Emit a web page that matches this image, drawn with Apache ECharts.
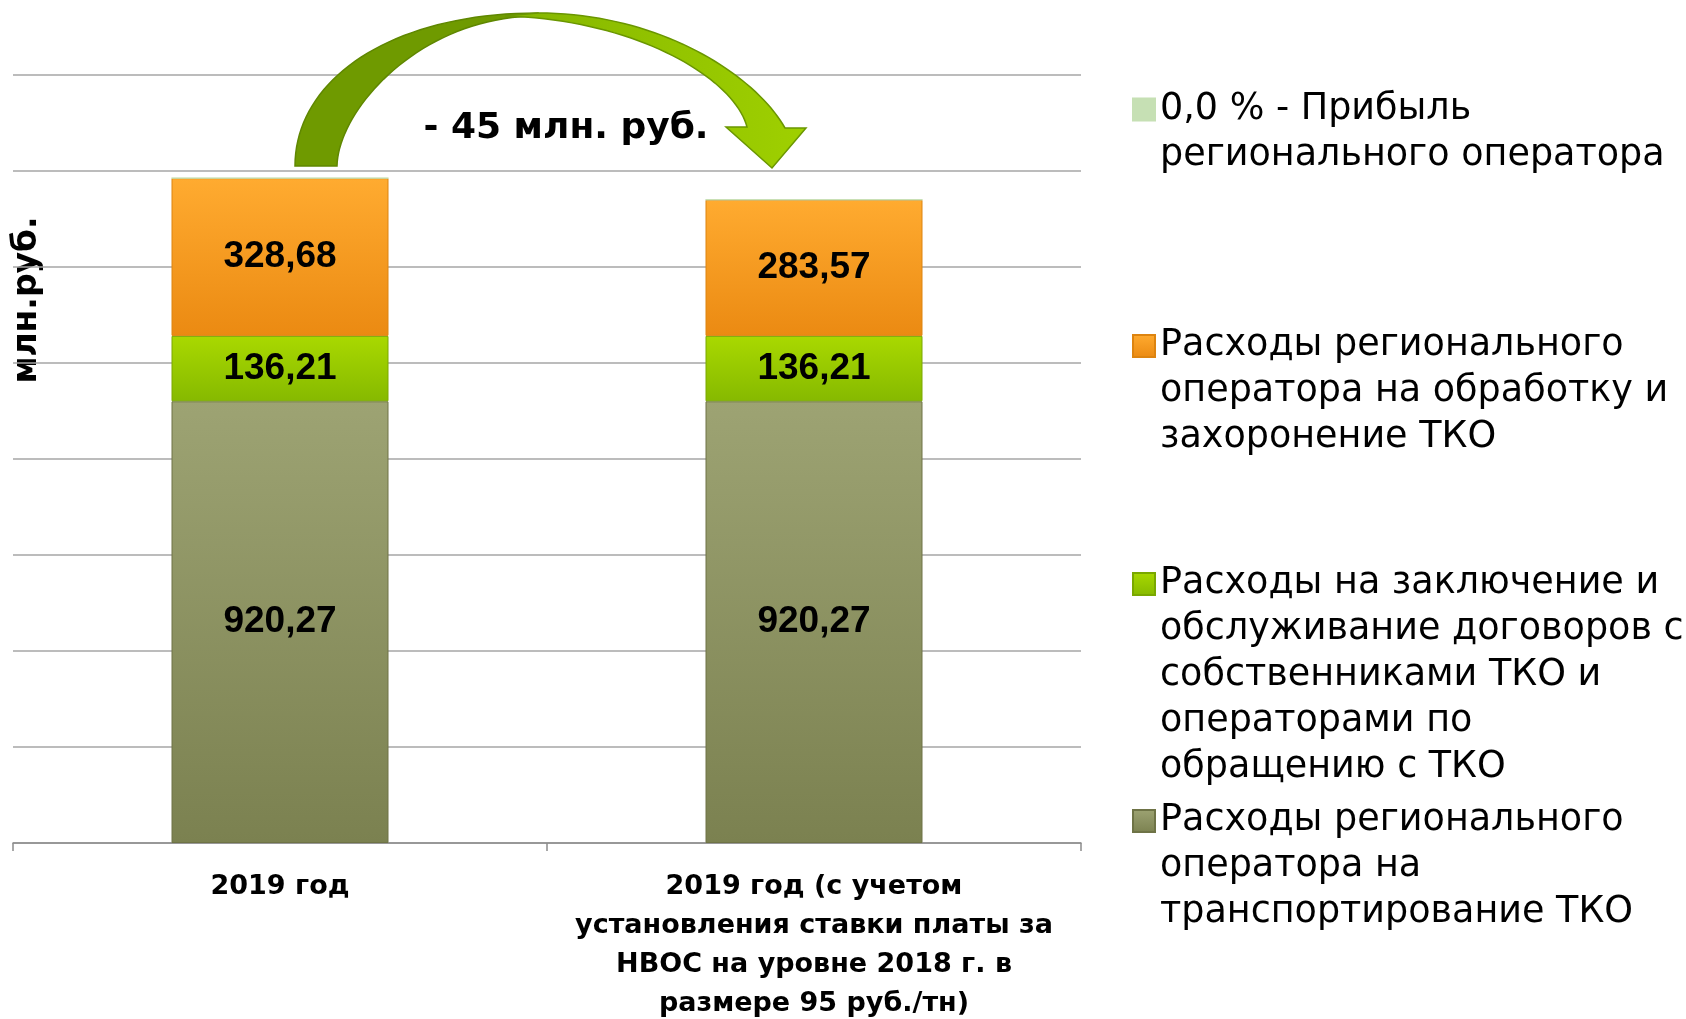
<!DOCTYPE html>
<html>
<head>
<meta charset="utf-8">
<title>Расходы регионального оператора</title>
<script src="https://cdn.jsdelivr.net/npm/echarts@6/dist/echarts.min.js"></script>
<style>
  html, body { margin: 0; padding: 0; background: #fff; }
  #chart { width: 1686px; height: 1019px; }
</style>
</head>
<body>
<div id="chart"></div>
<script>
// категории и значения (млн. руб.)
const categories = [
  '2019 год',
  '2019 год (с учетом\nустановления ставки платы за\nНВОС на уровне 2018 г. в\nразмере 95 руб./тн)'
];
const transportValues = [920.27, 920.27];
const contractValues = [136.21, 136.21];
const processingValues = [328.68, 283.57];
const profitValues = [0, 0];

const seriesNames = [
  'Расходы регионального оператора на транспортирование ТКО',
  'Расходы на заключение и обслуживание договоров с собственниками ТКО и операторами по обращению с ТКО',
  'Расходы регионального оператора на обработку и захоронение ТКО',
  '0,0 % - Прибыль регионального оператора'
];
// переносы строк в легенде как на слайде
const legendLines = [
  ['Расходы регионального', 'оператора на', 'транспортирование ТКО'],
  ['Расходы на заключение и', 'обслуживание договоров с', 'собственниками ТКО и', 'операторами по', 'обращению с ТКО'],
  ['Расходы регионального', 'оператора на обработку и', 'захоронение ТКО'],
  ['0,0 % - Прибыль', 'регионального оператора']
];
const yMax = 1600;
const yStep = 200;

const chart = echarts.init(document.getElementById('chart'));

function grad(top, bottom) {
  return {
    type: 'linear', x: 0, y: 0, x2: 0, y2: 1,
    colorStops: [{ offset: 0, color: top }, { offset: 1, color: bottom }]
  };
}

function fmt(p) {
  return p.value ? p.value.toFixed(2).replace('.', ',') : '';
}

// точки кубической кривой для стрелки
function cubic(p0, c1, c2, p3, n) {
  const pts = [];
  for (let i = 0; i <= n; i++) {
    const t = i / n, u = 1 - t;
    pts.push([
      u * u * u * p0[0] + 3 * u * u * t * c1[0] + 3 * u * t * t * c2[0] + t * t * t * p3[0],
      u * u * u * p0[1] + 3 * u * u * t * c1[1] + 3 * u * t * t * c2[1] + t * t * t * p3[1]
    ]);
  }
  return pts;
}

const darkBand = cubic([295, 166], [295, 80], [390, 13], [538, 13], 40)
  .concat(cubic([538, 16], [420, 16], [338, 110], [337, 166], 40));
const lightBand = cubic([538, 13], [660, 13], [755, 75], [785, 128], 40)
  .concat([[806, 128], [772, 168], [726, 127], [747, 127]])
  .concat(cubic([747, 127], [735, 80], [640, 20], [505, 16], 40));

const labelFont = {
  show: true,
  position: 'inside',
  color: '#000',
  fontFamily: 'Liberation Sans',
  fontWeight: 'bold',
  fontSize: 37,
  formatter: fmt
};

const colors = [
  { c: grad('#9da373', '#7b8150'), b: '#6e7346' },
  { c: grad('#a9d900', '#86b900'), b: '#7aa800' },
  { c: grad('#ffab30', '#eb8a12'), b: '#dd8410' },
  { c: '#c6e0b4', b: '#c6e0b4' }
];
const values = [transportValues, contractValues, processingValues, profitValues];

const series = seriesNames.map((name, i) => ({
  name: name,
  type: 'bar',
  stack: 'total',
  barWidth: 217,
  data: values[i],
  itemStyle: { color: colors[i].c, borderColor: colors[i].b, borderWidth: 1 },
  label: i === 3 ? { show: false } : labelFont
}));

const iconY = [821, 584, 346, 109.5];
const lineH = 46;
const legends = seriesNames.map((name, i) => {
  const n = legendLines[i].length;
  return {
    data: [name],
    orient: 'vertical',
    left: 1132,
    top: iconY[i] - (2 * n - 1) * lineH / 2,
    padding: 0,
    icon: 'rect',
    itemWidth: 22,
    itemHeight: 22,
    selectedMode: false,
    formatter: () => '\n'.repeat(n - 1) + legendLines[i].join('\n'),
    textStyle: {
      fontFamily: 'DejaVu Sans',
      fontSize: 36.5,
      lineHeight: lineH,
      color: '#000'
    }
  };
});

chart.setOption({
  animation: false,
  grid: { left: 13, right: 605, top: 75, bottom: 176, outerBoundsMode: 'none' },
  legend: legends,
  xAxis: {
    type: 'category',
    data: categories,
    axisLine: { lineStyle: { color: '#8c8c8c', width: 1.5 } },
    axisTick: { show: true, length: 8, lineStyle: { color: '#8c8c8c', width: 1.5 } },
    axisLabel: {
      interval: 0,
      margin: 24,
      color: '#000',
      fontFamily: 'DejaVu Sans',
      fontWeight: 'bold',
      fontSize: 27,
      lineHeight: 39
    }
  },
  yAxis: {
    type: 'value',
    min: 0,
    max: yMax,
    interval: yStep,
    axisLine: { show: false },
    axisTick: { show: false },
    axisLabel: { show: false },
    splitLine: { lineStyle: { color: '#a6a6a6', width: 1.5 } }
  },
  series: series,
  graphic: [
    {
      type: 'text',
      x: 27,
      y: 300,
      rotation: Math.PI / 2,
      style: {
        text: 'млн.руб.',
        fontFamily: 'DejaVu Sans',
        fontWeight: 'bold',
        fontSize: 33,
        fill: '#000',
        align: 'center',
        verticalAlign: 'middle'
      }
    },
    {
      type: 'polygon',
      z: 100,
      shape: { points: darkBand },
      style: { fill: '#6f9a00', stroke: '#5f8700', lineWidth: 1.5 }
    },
    {
      type: 'polygon',
      z: 101,
      shape: { points: lightBand },
      style: {
        fill: {
          type: 'linear', x: 0, y: 0, x2: 1, y2: 0,
          colorStops: [{ offset: 0, color: '#84b500' }, { offset: 1, color: '#9fd000' }]
        },
        stroke: '#6a9600',
        lineWidth: 1.5
      }
    },
    {
      type: 'text',
      z: 102,
      x: 566,
      y: 129,
      style: {
        text: '- 45 млн. руб.',
        fontFamily: 'DejaVu Sans',
        fontWeight: 'bold',
        fontSize: 36,
        fill: '#000',
        align: 'center',
        verticalAlign: 'middle'
      }
    }
  ]
});
</script>
</body>
</html>
